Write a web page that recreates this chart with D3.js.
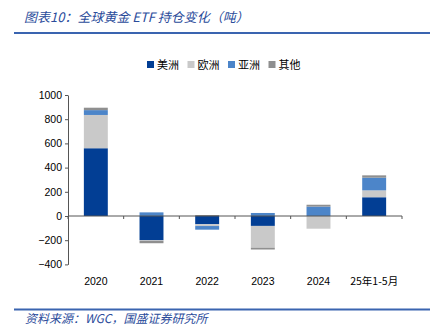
<!DOCTYPE html>
<html>
<head>
<meta charset="utf-8">
<script src="https://cdn.jsdelivr.net/npm/d3@7"></script>
<style>
    body { margin: 0; background: #fff; }
    svg { display: block; }
    .cn { font-family: "Noto Sans CJK SC", sans-serif; }
    .tick text { font-family: "Liberation Sans", Arial, sans-serif; font-size: 10.5px; fill: #000; }
</style>
</head>
<body>
<svg id="chart" width="442" height="335"></svg>
<script>
const categories = ['2020', '2021', '2022', '2023', '2024', '25年1-5月'];
const seriesNames = ['美洲', '欧洲', '亚洲', '其他'];
const americas = [560, -200, -68, -82, 0, 155];
const europe = [275, -5, -15, -180, -105, 57];
const asia = [40, 30, -30, 25, 78, 105];
const others = [20, -20, 8, -15, 15, 19];
const yTicks = [-400, -200, 0, 200, 400, 600, 800, 1000];
const colors = ['#023e94', '#c9c9c9', '#4c85c9', '#8f8f8f'];

window.onload = function() {
    drawChart();
};

function drawChart() {
    let svg = d3.select('#chart');
    svg.selectAll('*').remove();

    let rows = categories.map((c, i) => ({
        cat: c,
        '美洲': americas[i],
        '欧洲': europe[i],
        '亚洲': asia[i],
        '其他': others[i]
    }));

    let stack = d3.stack()
        .keys(seriesNames)
        .offset(d3.stackOffsetDiverging);
    let layers = stack(rows);

    let left = 68, right = 402, top = 95, bottom = 264.4;

    let x = d3.scaleBand()
        .domain(categories)
        .range([left, right])
        .paddingInner(0.57)
        .paddingOuter(0.285);

    let y = d3.scaleLinear()
        .domain([-400, 1000])
        .range([bottom, top]);

    // title
    svg.append('text')
        .attr('class', 'cn')
        .attr('x', 24)
        .attr('y', 22)
        .attr('font-size', 13)
        .attr('font-style', 'italic')
        .attr('fill', '#2b4c9b')
        .text('图表10：全球黄金 ETF 持仓变化（吨）');

    svg.append('line')
        .attr('x1', 14).attr('x2', 430)
        .attr('y1', 33).attr('y2', 33)
        .attr('stroke', '#3a64b0')
        .attr('stroke-width', 2);

    // legend
    let legend = svg.append('g')
        .selectAll('g')
        .data(seriesNames)
        .enter().append('g')
        .attr('transform', (d, i) => `translate(${147 + i * 40.5},61)`);

    legend.append('rect')
        .attr('width', 7)
        .attr('height', 7)
        .attr('fill', (d, i) => colors[i]);

    legend.append('text')
        .attr('class', 'cn')
        .attr('x', 10)
        .attr('y', 7.5)
        .attr('font-size', 11)
        .attr('fill', '#000')
        .text(d => d);

    // bars
    svg.append('g')
        .selectAll('g')
        .data(layers)
        .enter().append('g')
        .attr('fill', (d, i) => colors[i])
        .selectAll('rect')
        .data(d => d)
        .enter().append('rect')
        .attr('x', d => x(d.data.cat))
        .attr('y', d => y(Math.max(d[0], d[1])))
        .attr('width', x.bandwidth())
        .attr('height', d => Math.abs(y(d[0]) - y(d[1])));

    // y axis
    let yAxis = svg.append('g')
        .attr('transform', `translate(${left},0)`)
        .call(d3.axisLeft(y)
            .tickValues(yTicks)
            .tickFormat(d3.format('d'))
            .tickSize(3)
            .tickSizeOuter(0)
            .tickPadding(3));
    yAxis.selectAll('line, path').attr('stroke', '#555');

    // zero line with category ticks
    let step = x.step();
    let zero = svg.append('g');
    zero.append('line')
        .attr('x1', left).attr('x2', right)
        .attr('y1', y(0)).attr('y2', y(0))
        .attr('stroke', '#555');
    zero.selectAll('.ct')
        .data(d3.range(categories.length + 1))
        .enter().append('line')
        .attr('x1', i => left + i * step)
        .attr('x2', i => left + i * step)
        .attr('y1', y(0))
        .attr('y2', y(0) + 3)
        .attr('stroke', '#555');

    // category labels
    svg.append('g')
        .selectAll('text')
        .data(categories)
        .enter().append('text')
        .attr('class', 'cn')
        .attr('x', d => x(d) + x.bandwidth() / 2)
        .attr('y', 284.5)
        .attr('text-anchor', 'middle')
        .attr('font-size', 10.5)
        .attr('fill', '#000')
        .style('font-family', d => /年/.test(d) ? '"Noto Sans CJK SC", sans-serif' : '"Liberation Sans", Arial, sans-serif')
        .text(d => d);

    // source
    svg.append('line')
        .attr('x1', 14).attr('x2', 430)
        .attr('y1', 309.5).attr('y2', 309.5)
        .attr('stroke', '#3a64b0')
        .attr('stroke-width', 2);

    svg.append('text')
        .attr('class', 'cn')
        .attr('x', 25)
        .attr('y', 323)
        .attr('font-size', 12)
        .attr('font-style', 'italic')
        .attr('fill', '#2b4c9b')
        .text('资料来源：WGC，国盛证券研究所');
}
</script>
</body>
</html>
